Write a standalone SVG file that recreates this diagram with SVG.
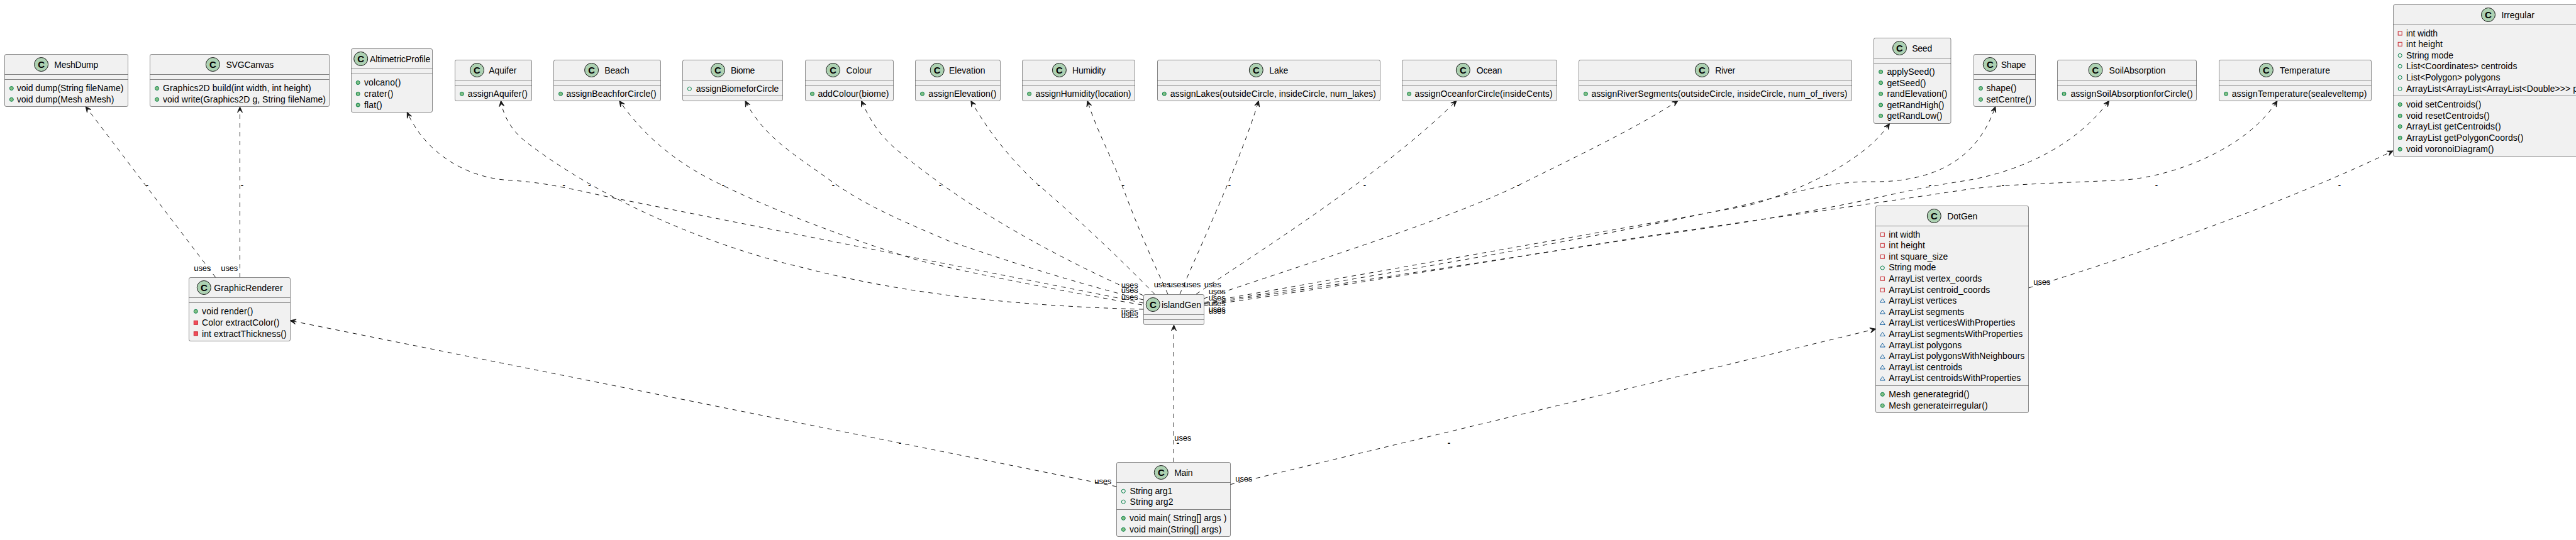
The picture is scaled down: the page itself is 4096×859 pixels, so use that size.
<svg xmlns="http://www.w3.org/2000/svg" width="4096" height="859" viewBox="0 0 4096 859">
<style>
text{font-family:"Liberation Sans",Arial,sans-serif;font-size:14px;fill:#000}
.b{fill:#F1F1F1;stroke:#181818;stroke-width:.5}
.d{stroke:#181818;stroke-width:.5}
.c{fill:#ADD1B2;stroke:#181818;stroke-width:1}
.k{font-weight:bold;font-size:15px;text-anchor:middle}
.u{font-size:13px}
.t{font-size:13px;font-weight:bold;text-anchor:middle}
.e{fill:none;stroke:#181818;stroke-width:1;stroke-dasharray:7,7;marker-end:url(#a)}
</style>
<defs>
<marker id="a" markerUnits="userSpaceOnUse" markerWidth="12" markerHeight="12" viewBox="-10 -6 12 12" refX="0" refY="0" orient="auto"><path d="M0,0L-9,-4L-5,0L-9,4Z" fill="#181818" stroke="#181818" stroke-width="1"/></marker>
<circle id="pm" r="3" fill="#84BE84" stroke="#038048"/>
<circle id="pf" r="3" fill="none" stroke="#038048"/>
<rect id="xf" x="-3" y="-3" width="6" height="6" fill="none" stroke="#C82930"/>
<rect id="xm" x="-3" y="-3" width="6" height="6" fill="#F24D5C" stroke="#C82930"/>
<path id="tf" d="M-4,3H4L0,-3Z" fill="none" stroke="#1963A0"/>
</defs>
<g id="connectors">
<path class="e" d="M343,441.5L136.2,169.5"/>
<path class="e" d="M381.5,441L381.5,170"/>
<path class="e" d="M1818,482L966,313C905,300 870,291 815,287C750,285 680,250 647.3,178.5"/>
<path class="e" d="M1818,492C1620,487 1440,468 1282,427C1130,392 960,320 838,227C815,210 800,185 796.4,160.3"/>
<path class="e" d="M1816,485C1700,465 1560,438 1463,415C1340,377 1230,335 1137,289C1085,263 1030,225 984.8,160.3"/>
<path class="e" d="M1818,477C1720,452 1630,425 1508,383C1450,358 1380,330 1323,289C1270,250 1215,220 1185,160.3"/>
<path class="e" d="M1818,470C1730,432 1640,385 1568,340C1525,314 1470,275 1422,235C1400,215 1385,195 1369.6,160.3"/>
<path class="e" d="M1836,468C1785,415 1700,335 1645,289C1610,255 1575,215 1543.8,160.3"/>
<path class="e" d="M1857,468C1835,420 1810,365 1782,289C1765,245 1745,210 1729,160.3"/>
<path class="e" d="M1876,468C1905,400 1975,250 2001.3,160.3"/>
<path class="e" d="M1902,468C1970,420 2190,285 2316,160.3"/>
<path class="e" d="M1914,475C2100,412 2300,350 2414,295C2500,252 2600,205 2668,160.3"/>
<path class="e" d="M1915,481C2200,430 2600,360 2780,327C2840,310 2880,290 2915,272C2960,245 2985,225 3004.5,196.5"/>
<path class="e" d="M1915,482.5C2250,430 2600,365 2755,330C2830,315 2890,290 2970,289C3060,291 3140,265 3172.8,169.5"/>
<path class="e" d="M1915,484C2150,449 2500,395 2630,375C2750,358 2880,338 3005,310C3060,298 3090,293 3121,288C3195,277 3295,240 3353.6,160.3"/>
<path class="e" d="M1915,486C2100,461 2400,410 2630,374C2800,349 2950,328 3130,301C3200,292 3290,291 3380,286C3450,281 3570,240 3621,160.3"/>
<path class="e" d="M3225.5,458C3400,405 3640,320 3805,240"/>
<path class="e" d="M1775.5,774L461.5,510"/>
<path class="e" d="M1866.5,735L1866.5,517"/>
<path class="e" d="M1956,770.7L2982.5,523.3"/>
<g>
<text class="u" x="308.3" y="431" textLength="27">uses</text><text class="u" x="351.3" y="431" textLength="27">uses</text>
<text class="u" x="1782.7" y="457.7" textLength="27">uses</text><text class="u" x="1782.7" y="465.7" textLength="27">uses</text><text class="u" x="1782.7" y="477.3" textLength="27">uses</text><text class="u" x="1782.7" y="499.7" textLength="27">uses</text><text class="u" x="1782.7" y="505.7" textLength="27">uses</text>
<text class="u" x="1834.7" y="456.7" textLength="27">uses</text><text class="u" x="1857.7" y="456.7" textLength="27">uses</text><text class="u" x="1882.3" y="456.7" textLength="27">uses</text><text class="u" x="1914.7" y="456.7" textLength="27">uses</text>
<text class="u" x="1921.7" y="467.7" textLength="27">uses</text><text class="u" x="1921.7" y="477.7" textLength="27">uses</text><text class="u" x="1921.7" y="487" textLength="27">uses</text><text class="u" x="1921.7" y="496.3" textLength="27">uses</text><text class="u" x="1921.7" y="499.3" textLength="27">uses</text>
<text class="u" x="1867.3" y="700.7" textLength="27">uses</text><text class="u" x="1740.3" y="769.7" textLength="27">uses</text><text class="u" x="1964.3" y="765.7" textLength="27">uses</text><text class="u" x="3233.3" y="452.7" textLength="27">uses</text>
<text class="t" x="896.7" y="299">-</text><text class="t" x="937.4" y="299">-</text><text class="t" x="1150" y="299">-</text><text class="t" x="1325" y="299">-</text><text class="t" x="1495" y="299">-</text><text class="t" x="1652" y="299">-</text><text class="t" x="1786" y="299">-</text>
<text class="t" x="1955" y="299">-</text><text class="t" x="2170" y="299">-</text><text class="t" x="2414" y="299">-</text><text class="t" x="2905" y="299">-</text><text class="t" x="3069" y="299">-</text><text class="t" x="3185" y="299">-</text><text class="t" x="3429" y="299">-</text><text class="t" x="3720" y="299">-</text>
<text class="t" x="234" y="299">-</text><text class="t" x="385" y="299">-</text><text class="t" x="1431" y="709">-</text><text class="t" x="1873" y="709">-</text><text class="t" x="2304" y="709">-</text>
</g>
</g>
<g id="MeshDump"><rect class="b" x="7.5" y="86.5" width="196" height="83" rx="2.5"/><path class="d" d="M7.5,118.5H203.5M7.5,126.5H203.5"/><circle class="c" cx="65.6" cy="102.5" r="11"/><text class="k" x="65.6" y="107.5">C</text><text x="86.2" y="108.3" textLength="70">MeshDump</text><use href="#pm" x="18.3" y="140.5"/><text x="26.8" y="145.3" textLength="169.6">void dump(String fileName)</text><use href="#pm" x="18.3" y="158.3"/><text x="26.8" y="163.3" textLength="154.5">void dump(Mesh aMesh)</text></g>
<g id="SVGCanvas"><rect class="b" x="238.5" y="86.5" width="285" height="83" rx="2.5"/><path class="d" d="M238.5,118.5H523.5M238.5,126.5H523.5"/><circle class="c" cx="338.4" cy="102.5" r="11"/><text class="k" x="338.4" y="107.5">C</text><text x="359.4" y="108.3" textLength="75.9">SVGCanvas</text><use href="#pm" x="249.6" y="140.5"/><text x="259" y="145.3" textLength="235.7">Graphics2D build(int width, int height)</text><use href="#pm" x="249.6" y="158.3"/><text x="259" y="163.3" textLength="259">void write(Graphics2D g, String fileName)</text></g>
<g id="AltimetricProfile"><rect class="b" x="558.5" y="77.5" width="129" height="101" rx="2.5"/><path class="d" d="M558.5,109.5H687.5M558.5,117.5H687.5"/><circle class="c" cx="573.7" cy="93.5" r="11"/><text class="k" x="573.7" y="98.5">C</text><text x="588" y="99.3" textLength="96.4">AltimetricProfile</text><use href="#pm" x="569.2" y="131.5"/><text x="579" y="136.3" textLength="58.5">volcano()</text><use href="#pm" x="569.2" y="149.3"/><text x="579" y="154.3" textLength="46.4">crater()</text><use href="#pm" x="569.2" y="167"/><text x="579" y="172" textLength="28.6">flat()</text></g>
<g id="Aquifer"><rect class="b" x="723.5" y="95.5" width="122" height="65" rx="2.5"/><path class="d" d="M723.5,127.5H845.5M723.5,135.5H845.5"/><circle class="c" cx="758.5" cy="111.5" r="11"/><text class="k" x="758.5" y="116.5">C</text><text x="777.2" y="117.3" textLength="44.2">Aquifer</text><use href="#pm" x="734.4" y="149.3"/><text x="743.8" y="154.3" textLength="95">assignAquifer()</text></g>
<g id="Beach"><rect class="b" x="880.5" y="95.5" width="170" height="65" rx="2.5"/><path class="d" d="M880.5,127.5H1050.5M880.5,135.5H1050.5"/><circle class="c" cx="940.6" cy="111.5" r="11"/><text class="k" x="940.6" y="116.5">C</text><text x="961.2" y="117.3" textLength="39.3">Beach</text><use href="#pm" x="891.5" y="149.3"/><text x="900.4" y="154.3" textLength="143.3">assignBeachforCircle()</text></g>
<g id="Biome"><rect class="b" x="1085.5" y="95.5" width="159" height="65" rx="2.5"/><path class="d" d="M1085.5,127.5H1244.5M1085.5,152.5H1244.5"/><circle class="c" cx="1141.5" cy="111.5" r="11"/><text class="k" x="1141.5" y="116.5">C</text><text x="1162" y="117.3" textLength="38.4">Biome</text><use href="#pf" x="1096.4" y="141.3"/><text x="1106.7" y="146.3" textLength="131.7">assignBiomeforCircle</text></g>
<g id="Colour"><rect class="b" x="1280.5" y="95.5" width="140" height="65" rx="2.5"/><path class="d" d="M1280.5,127.5H1420.5M1280.5,135.5H1420.5"/><circle class="c" cx="1324.6" cy="111.5" r="11"/><text class="k" x="1324.6" y="116.5">C</text><text x="1345.5" y="117.3" textLength="41">Colour</text><use href="#pm" x="1291.5" y="149.3"/><text x="1300.4" y="154.3" textLength="113">addColour(biome)</text></g>
<g id="Elevation"><rect class="b" x="1455.5" y="95.5" width="135" height="65" rx="2.5"/><path class="d" d="M1455.5,127.5H1590.5M1455.5,135.5H1590.5"/><circle class="c" cx="1490.2" cy="111.5" r="11"/><text class="k" x="1490.2" y="116.5">C</text><text x="1509" y="117.3" textLength="57.6">Elevation</text><use href="#pm" x="1466.5" y="149.3"/><text x="1476.3" y="154.3" textLength="108">assignElevation()</text></g>
<g id="Humidity"><rect class="b" x="1625.5" y="95.5" width="179" height="65" rx="2.5"/><path class="d" d="M1625.5,127.5H1804.5M1625.5,135.5H1804.5"/><circle class="c" cx="1684.4" cy="111.5" r="11"/><text class="k" x="1684.4" y="116.5">C</text><text x="1705" y="117.3" textLength="53">Humidity</text><use href="#pm" x="1636.6" y="149.3"/><text x="1646.4" y="154.3" textLength="152">assignHumidity(location)</text></g>
<g id="Lake"><rect class="b" x="1840.5" y="95.5" width="354" height="65" rx="2.5"/><path class="d" d="M1840.5,127.5H2194.5M1840.5,135.5H2194.5"/><circle class="c" cx="1997.3" cy="111.5" r="11"/><text class="k" x="1997.3" y="116.5">C</text><text x="2018.3" y="117.3" textLength="30">Lake</text><use href="#pm" x="1851.3" y="149.3"/><text x="1860.7" y="154.3" textLength="327.3">assignLakes(outsideCircle, insideCircle, num_lakes)</text></g>
<g id="Ocean"><rect class="b" x="2229.5" y="95.5" width="246" height="65" rx="2.5"/><path class="d" d="M2229.5,127.5H2475.5M2229.5,135.5H2475.5"/><circle class="c" cx="2326.3" cy="111.5" r="11"/><text class="k" x="2326.3" y="116.5">C</text><text x="2347.8" y="117.3" textLength="40.6">Ocean</text><use href="#pm" x="2240.6" y="149.3"/><text x="2249.6" y="154.3" textLength="219">assignOceanforCircle(insideCents)</text></g>
<g id="River"><rect class="b" x="2510.5" y="95.5" width="434" height="65" rx="2.5"/><path class="d" d="M2510.5,127.5H2944.5M2510.5,135.5H2944.5"/><circle class="c" cx="2706.3" cy="111.5" r="11"/><text class="k" x="2706.3" y="116.5">C</text><text x="2727.2" y="117.3" textLength="32">River</text><use href="#pm" x="2521.4" y="149.3"/><text x="2530.4" y="154.3" textLength="407">assignRiverSegments(outsideCircle, insideCircle, num_of_rivers)</text></g>
<g id="Seed"><rect class="b" x="2979.5" y="60.5" width="122.5" height="136" rx="2.5"/><path class="d" d="M2979.5,92.5H3102M2979.5,100.5H3102"/><circle class="c" cx="3020.5" cy="76.5" r="11"/><text class="k" x="3020.5" y="81.5">C</text><text x="3040.2" y="82.3" textLength="32">Seed</text><use href="#pm" x="2990.6" y="114.3"/><text x="3000.4" y="119.3" textLength="76.3">applySeed()</text><use href="#pm" x="2990.6" y="131.7"/><text x="3000.4" y="136.7" textLength="62">getSeed()</text><use href="#pm" x="2990.6" y="149.3"/><text x="3000.4" y="154.3" textLength="96">randElevation()</text><use href="#pm" x="2990.6" y="167"/><text x="3000.4" y="172" textLength="91">getRandHigh()</text><use href="#pm" x="2990.6" y="184.3"/><text x="3000.4" y="189.3" textLength="88">getRandLow()</text></g>
<g id="Shape"><rect class="b" x="3138.5" y="86.5" width="98" height="83" rx="2.5"/><path class="d" d="M3138.5,118.5H3236.5M3138.5,126.5H3236.5"/><circle class="c" cx="3164.3" cy="102.5" r="11"/><text class="k" x="3164.3" y="107.5">C</text><text x="3181.7" y="108.3" textLength="39.7">Shape</text><use href="#pm" x="3149.5" y="140.5"/><text x="3158.5" y="145.3" textLength="48">shape()</text><use href="#pm" x="3149.5" y="158.3"/><text x="3158.5" y="163.3" textLength="71.4">setCentre()</text></g>
<g id="SoilAbsorption"><rect class="b" x="3271.5" y="95.5" width="221" height="65" rx="2.5"/><path class="d" d="M3271.5,127.5H3492.5M3271.5,135.5H3492.5"/><circle class="c" cx="3332" cy="111.5" r="11"/><text class="k" x="3332" y="116.5">C</text><text x="3353.6" y="117.3" textLength="89.7">SoilAbsorption</text><use href="#pm" x="3282" y="149.3"/><text x="3292.4" y="154.3" textLength="194.2">assignSoilAbsorptionforCircle()</text></g>
<g id="Temperature"><rect class="b" x="3528.5" y="95.5" width="242" height="65" rx="2.5"/><path class="d" d="M3528.5,127.5H3770.5M3528.5,135.5H3770.5"/><circle class="c" cx="3603.4" cy="111.5" r="11"/><text class="k" x="3603.4" y="116.5">C</text><text x="3625" y="117.3" textLength="80">Temperature</text><use href="#pm" x="3539.5" y="149.3"/><text x="3548.7" y="154.3" textLength="214.7">assignTemperature(sealeveltemp)</text></g>
<g id="Irregular"><rect class="b" x="3805.5" y="7.5" width="363" height="241" rx="2.5"/><path class="d" d="M3805.5,39.5H4168.5M3805.5,152.5H4168.5"/><circle class="c" cx="3956.5" cy="23.5" r="11"/><text class="k" x="3956.5" y="28.5">C</text><text x="3977.4" y="29.3" textLength="52.5">Irregular</text>
<use href="#xf" x="3816.2" y="53"/><text x="3826" y="58" textLength="50">int width</text><use href="#xf" x="3816.2" y="70.3"/><text x="3826" y="75.3" textLength="58">int height</text><use href="#pf" x="3816.2" y="88.3"/><text x="3826" y="93.3" textLength="75">String mode</text><use href="#pf" x="3816.2" y="105.3"/><text x="3826" y="110.3" textLength="176.4">List&lt;Coordinates&gt; centroids</text><use href="#pf" x="3816.2" y="123.3"/><text x="3826" y="128.3" textLength="149.4">List&lt;Polygon&gt; polygons</text><use href="#pf" x="3816.2" y="141.3"/><text x="3826" y="146.3" textLength="273">ArrayList&lt;ArrayList&lt;ArrayList&lt;Double&gt;&gt;&gt; p</text>
<use href="#pm" x="3816.2" y="166.3"/><text x="3826" y="171.3" textLength="119.3">void setCentroids()</text><use href="#pm" x="3816.2" y="184.3"/><text x="3826" y="189.3" textLength="132.7">void resetCentroids()</text><use href="#pm" x="3816.2" y="201.3"/><text x="3826" y="206.3" textLength="150.6">ArrayList getCentroids()</text><use href="#pm" x="3816.2" y="219.3"/><text x="3826" y="224.3" textLength="186.3">ArrayList getPolygonCoords()</text><use href="#pm" x="3816.2" y="237.3"/><text x="3826" y="242.3" textLength="139.5">void voronoiDiagram()</text></g>
<g id="GraphicRenderer"><rect class="b" x="300.5" y="441.5" width="161" height="101" rx="2.5"/><path class="d" d="M300.5,473.5H461.5M300.5,481.5H461.5"/><circle class="c" cx="324.3" cy="457.5" r="11"/><text class="k" x="324.3" y="462.5">C</text><text x="340.3" y="463.3" textLength="109.3">GraphicRenderer</text><use href="#pm" x="311.3" y="495.3"/><text x="321" y="500.3" textLength="81.3">void render()</text><use href="#xm" x="311.3" y="513.3"/><text x="321" y="518.3" textLength="123.3">Color extractColor()</text><use href="#xm" x="311.3" y="530.7"/><text x="321" y="535.7" textLength="134.7">int extractThickness()</text></g>
<g id="islandGen"><rect class="b" x="1818.5" y="468.5" width="96" height="48" rx="2.5"/><path class="d" d="M1818.5,500.5H1914.5M1818.5,508.5H1914.5"/><circle class="c" cx="1833.3" cy="484.5" r="11"/><text class="k" x="1833.3" y="489.5">C</text><text x="1847" y="490.3" textLength="63">islandGen</text></g>
<g id="Main"><rect class="b" x="1775.5" y="735.5" width="181" height="118" rx="2.5"/><path class="d" d="M1775.5,767.5H1956.5M1775.5,810.5H1956.5"/><circle class="c" cx="1846.3" cy="751.5" r="11"/><text class="k" x="1846.3" y="756.5">C</text><text x="1867.3" y="757.3" textLength="29.3">Main</text><use href="#pf" x="1786.3" y="781.3"/><text x="1796.5" y="786.3" textLength="67.7">String arg1</text><use href="#pf" x="1786.3" y="798.3"/><text x="1796.5" y="803.3" textLength="69">String arg2</text><use href="#pm" x="1786.3" y="824.3"/><text x="1796" y="829.3" textLength="154.3">void main( String[] args )</text><use href="#pm" x="1786.3" y="842.3"/><text x="1796" y="847.3" textLength="146.3">void main(String[] args)</text></g>
<g id="DotGen"><rect class="b" x="2982.5" y="327.5" width="243" height="329" rx="2.5"/><path class="d" d="M2982.5,359.5H3225.5M2982.5,613.5H3225.5"/><circle class="c" cx="3075.3" cy="343.5" r="11"/><text class="k" x="3075.3" y="348.5">C</text><text x="3096.3" y="349.3" textLength="48">DotGen</text>
<use href="#xf" x="2993.3" y="373.3"/><text x="3003.3" y="378.3" textLength="50">int width</text><use href="#xf" x="2993.3" y="390.3"/><text x="3003.3" y="395.3" textLength="57.7">int height</text><use href="#xf" x="2993.3" y="408.3"/><text x="3003.3" y="413.3" textLength="94">int square_size</text><use href="#pf" x="2993.3" y="426"/><text x="3003.3" y="430.3" textLength="75">String mode</text><use href="#xf" x="2993.3" y="443.3"/><text x="3003.3" y="448.3" textLength="148">ArrayList vertex_coords</text><use href="#xf" x="2993.3" y="461.3"/><text x="3003.3" y="466.3" textLength="161">ArrayList centroid_coords</text><use href="#tf" x="2993.3" y="478"/><text x="3003.3" y="483.3" textLength="108">ArrayList vertices</text><use href="#tf" x="2993.3" y="496"/><text x="3003.3" y="501.3" textLength="120">ArrayList segments</text><use href="#tf" x="2993.3" y="513.5"/><text x="3003.3" y="518.3" textLength="201">ArrayList verticesWithProperties</text><use href="#tf" x="2993.3" y="531.5"/><text x="3003.3" y="536.3" textLength="213">ArrayList segmentsWithProperties</text><use href="#tf" x="2993.3" y="549"/><text x="3003.3" y="554.3" textLength="116">ArrayList polygons</text><use href="#tf" x="2993.3" y="567"/><text x="3003.3" y="571.3" textLength="216">ArrayList polygonsWithNeighbours</text><use href="#tf" x="2993.3" y="584"/><text x="3003.3" y="589.3" textLength="117">ArrayList centroids</text><use href="#tf" x="2993.3" y="602"/><text x="3003.3" y="606.3" textLength="210">ArrayList centroidsWithProperties</text>
<use href="#pm" x="2993.3" y="627.3"/><text x="3003.3" y="632.3" textLength="128.3">Mesh generategrid()</text><use href="#pm" x="2993.3" y="645.3"/><text x="3003.3" y="650.3" textLength="157.3">Mesh generateirregular()</text></g>
</svg>
